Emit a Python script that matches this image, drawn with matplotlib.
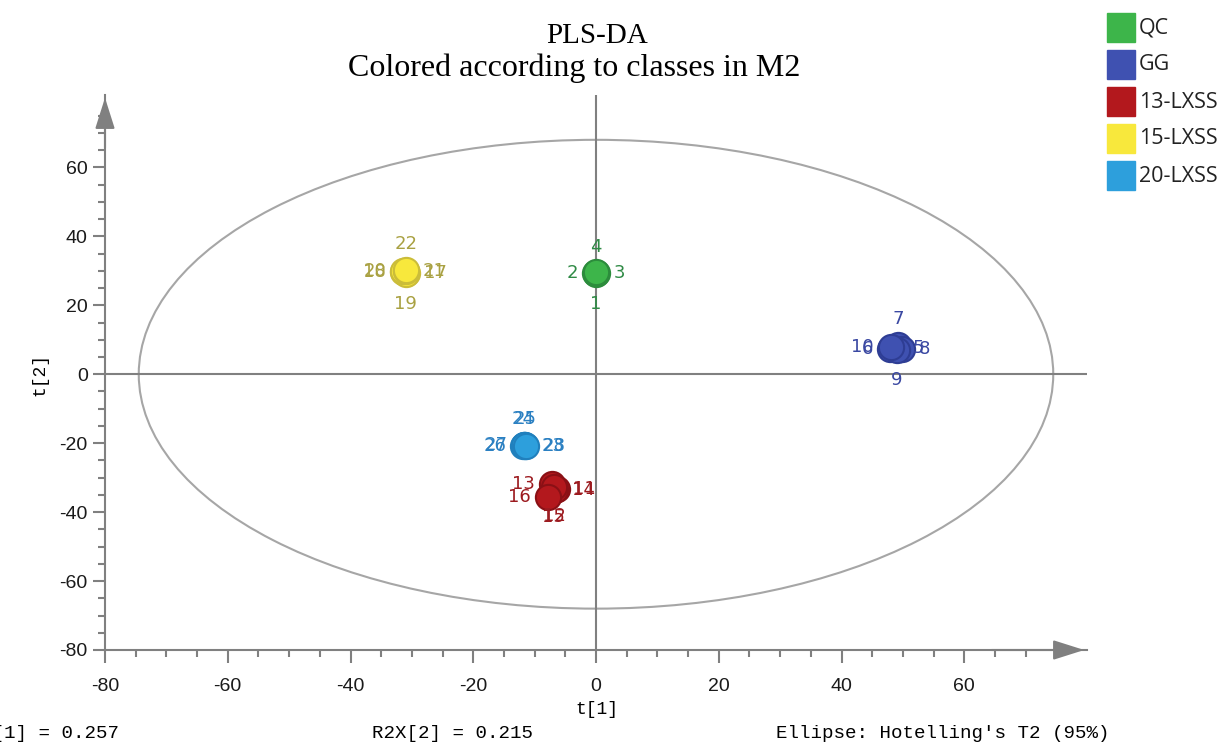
import numpy as np
import matplotlib
matplotlib.use('Agg')
import matplotlib.pyplot as plt
from matplotlib.patches import Ellipse, Rectangle

plt.rcParams['axes.unicode_minus'] = False

# Classes of the PLS-DA model
classes = ["QC", "GG", "13-LXSS", "15-LXSS", "20-LXSS"]
face_colors = ["#3db54a", "#3f51b1", "#b3181d", "#f8e83c", "#2d9fdc"]
edge_colors = ["#2c8c3c", "#2e3d94", "#8a1015", "#cbbd3a", "#2080bd"]
text_colors = ["#2f8a45", "#3a48a2", "#9c1a1f", "#a9a142", "#2b80c2"]

# Sample numbers, their class index and the scores t[1], t[2]
sample_ids = list(range(1, 29))
sample_class = [0]*4 + [1]*6 + [2]*6 + [3]*6 + [4]*6
t1 = [0.0, -0.2, 0.2, 0.0,
      48.8, 47.9, 49.2, 49.8, 49.0, 48.0,
      -6.4, -6.8, -7.2, -6.6, -6.9, -7.9,
      -30.8, -31.5, -31.0, -31.4, -30.9, -31.0,
      -11.5, -11.8, -11.6, -11.9, -11.7, -11.4]
t2 = [29.0, 29.4, 29.3, 29.6,
      7.6, 7.4, 8.6, 7.4, 7.0, 7.8,
      -33.3, -32.6, -31.8, -33.6, -32.8, -35.5,
      29.3, 29.6, 29.0, 30.0, 29.8, 30.3,
      -20.9, -20.4, -20.5, -20.8, -20.6, -20.7]

# Hotelling's T2 (95%) ellipse semi axes
ell_t1 = 74.5
ell_t2 = 68.0

r2x = [0.257, 0.215]

# side on which each sample number is written
label_side = ["d", "l", "r", "u",
              "r", "l", "u", "r", "d", "l",
              "r", "d", "l", "r", "d", "l",
              "r", "l", "d", "l", "r", "u",
              "r", "u", "u", "l", "l", "r"]


W, H = 1225, 746
fig = plt.figure(figsize=(W/100, H/100), dpi=100)
ax = fig.add_axes([105/W, 1-650/H, 982/W, 555/H])

axcol = "#808080"

# ellipse and cross lines
ax.add_patch(Ellipse((0, 0), 2*ell_t1, 2*ell_t2, fill=False,
                     edgecolor="#a6a6a6", lw=1.5, zorder=1))
ax.axhline(0, color=axcol, lw=1.5, zorder=1)
ax.axvline(0, color=axcol, lw=1.5, zorder=1)

# scores
offs = {"u": (0, 12, "center", "bottom"), "d": (0, -15, "center", "top"),
        "l": (-12, 0, "right", "center"), "r": (12, 0, "left", "center")}
for i in range(len(sample_ids)):
    c = sample_class[i]
    ax.scatter(t1[i], t2[i], s=330, color=face_colors[c],
               edgecolor=edge_colors[c], linewidth=1.5, zorder=3)
for i in range(len(sample_ids)):
    c = sample_class[i]
    dx, dy, ha, va = offs[label_side[i]]
    ax.annotate(str(sample_ids[i]), (t1[i], t2[i]), xytext=(dx, dy),
                textcoords="offset points", ha=ha, va=va, fontsize=13,
                family="DejaVu Sans", color=text_colors[c], zorder=4)

ax.set_xlim(-80, 80)
ax.set_ylim(-80, 81)
ax.set_xticks(np.arange(-80, 61, 20))
ax.set_yticks(np.arange(-80, 61, 20))
ax.set_xticks(np.arange(-80, 76, 5), minor=True)
ax.set_yticks(np.arange(-80, 76, 5), minor=True)
ax.tick_params(which="both", direction="out", color=axcol, width=1.5,
               labelsize=14, labelcolor="#1a1a1a")
ax.tick_params(which="major", length=9)
ax.tick_params(which="minor", length=5)
ax.tick_params(axis="x", pad=11)
for lab in ax.get_xticklabels() + ax.get_yticklabels():
    lab.set_family("Liberation Sans")
for s in ["top", "right"]:
    ax.spines[s].set_visible(False)
for s in ["left", "bottom"]:
    ax.spines[s].set_color(axcol)
    ax.spines[s].set_linewidth(1.5)

# axis arrows
ax.annotate("", xy=(1.0, 0.0), xytext=(0.9, 0.0), xycoords="axes fraction",
            arrowprops=dict(arrowstyle="-|>,head_length=1.2,head_width=0.38",
                            color=axcol, lw=1.5, mutation_scale=16))
ax.annotate("", xy=(0.0, 1.0), xytext=(0.0, 0.9), xycoords="axes fraction",
            arrowprops=dict(arrowstyle="-|>,head_length=1.2,head_width=0.38",
                            color=axcol, lw=1.5, mutation_scale=16))

# titles
fig.text(597/W, 1-36/H, "PLS-DA", ha="center", va="center",
         family="Liberation Serif", fontsize=21)
fig.text(574/W, 1-68/H, "Colored according to classes in M2", ha="center",
         va="center", family="Liberation Serif", fontsize=23)

mono = "Liberation Mono"
fig.text(597/W, 1-710/H, "t[1]", ha="center", va="center", family=mono,
         fontsize=13)
fig.text(40/W, 1-374/H, "t[2]", ha="center", va="center", family=mono,
         fontsize=13, rotation=90)
fig.text(-42/W, 1-733/H, "R2X[1] = {:.3f}".format(r2x[0]), ha="left",
         va="center", family=mono, fontsize=13.8)
fig.text(372/W, 1-733/H, "R2X[2] = {:.3f}".format(r2x[1]), ha="left",
         va="center", family=mono, fontsize=13.8)
fig.text(776/W, 1-733/H, "Ellipse: Hotelling's T2 (95%)", ha="left",
         va="center", family=mono, fontsize=13.8)

# legend
for k in range(len(classes)):
    y0 = 13 + 37*k
    fig.add_artist(Rectangle((1107/W, 1-(y0+29)/H), 28/W, 29/H,
                             transform=fig.transFigure, color=face_colors[k]))
    fig.text(1139/W, 1-(y0+15)/H, classes[k], ha="left", va="center",
             family="Open Sans", fontsize=15.5, color="#222222")

fig.savefig("out.png", dpi=100)
